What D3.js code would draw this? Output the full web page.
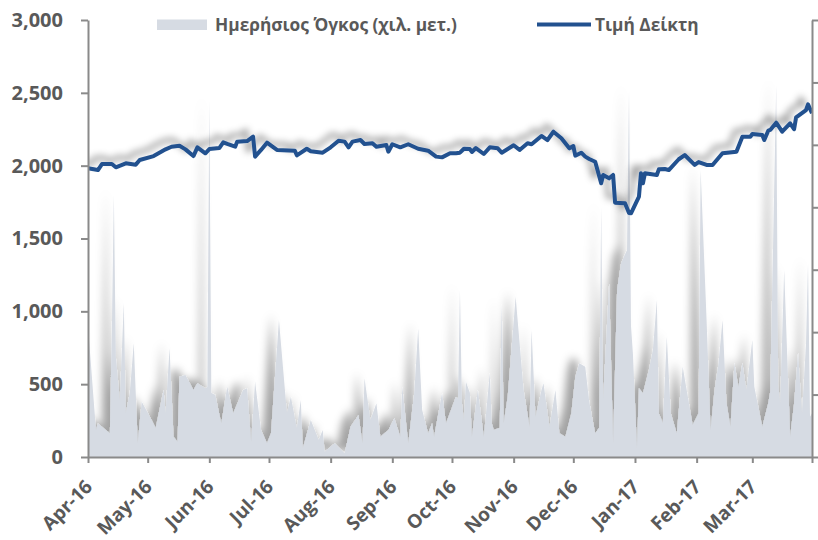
<!DOCTYPE html>
<html>
<head>
<meta charset="utf-8">
<script src="https://cdn.jsdelivr.net/npm/d3@7"></script>
<style>
  body { margin: 0; background: #fff; }
  svg { display: block; font-family: "Open Sans", sans-serif; }
</style>
</head>
<body>
<div class="container"></div>
<script>
// daily volume (thousand units) at its turning points
const volumeDates = [
  "2016-04-01","2016-04-05","2016-04-06","2016-04-12","2016-04-13","2016-04-14","2016-04-15","2016-04-17",
  "2016-04-19","2016-04-20","2016-04-22","2016-04-24","2016-04-26","2016-04-28","2016-05-03","2016-05-05",
  "2016-05-09","2016-05-10","2016-05-12","2016-05-14","2016-05-16","2016-05-17","2016-05-20","2016-05-24",
  "2016-05-26","2016-05-30","2016-05-31","2016-06-01","2016-06-02","2016-06-04","2016-06-07","2016-06-10",
  "2016-06-13","2016-06-18","2016-06-20","2016-06-22","2016-06-24","2016-06-27","2016-06-30","2016-07-02",
  "2016-07-06","2016-07-08","2016-07-10","2016-07-12","2016-07-15","2016-07-17","2016-07-18","2016-07-22",
  "2016-07-26","2016-07-28","2016-07-29","2016-08-03","2016-08-08","2016-08-11","2016-08-15","2016-08-17",
  "2016-08-18","2016-08-21","2016-08-24","2016-08-26","2016-08-30","2016-09-02","2016-09-05","2016-09-06",
  "2016-09-09","2016-09-12","2016-09-14","2016-09-16","2016-09-19","2016-09-21","2016-09-22","2016-09-26",
  "2016-09-28","2016-10-03","2016-10-04","2016-10-05","2016-10-06","2016-10-07","2016-10-08","2016-10-10",
  "2016-10-11","2016-10-14","2016-10-17","2016-10-20","2016-10-21","2016-10-22","2016-10-25","2016-10-26",
  "2016-10-27","2016-10-29","2016-11-02","2016-11-06","2016-11-09","2016-11-10","2016-11-12","2016-11-15",
  "2016-11-16","2016-11-19","2016-11-22","2016-11-24","2016-11-27","2016-11-30","2016-12-02","2016-12-04",
  "2016-12-07","2016-12-09","2016-12-12","2016-12-14","2016-12-15","2016-12-16","2016-12-19","2016-12-21",
  "2016-12-23","2016-12-25","2016-12-28","2016-12-29","2016-12-30","2016-12-31","2017-01-02","2017-01-03",
  "2017-01-05","2017-01-08","2017-01-10","2017-01-12","2017-01-13","2017-01-15","2017-01-17","2017-01-19",
  "2017-01-22","2017-01-25","2017-01-27","2017-01-30","2017-02-02","2017-02-03","2017-02-06","2017-02-08",
  "2017-02-10","2017-02-12","2017-02-14","2017-02-16","2017-02-18","2017-02-20","2017-02-22","2017-02-24",
  "2017-02-26","2017-03-01","2017-03-02","2017-03-06","2017-03-09","2017-03-10","2017-03-13","2017-03-14",
  "2017-03-15","2017-03-17","2017-03-20","2017-03-22","2017-03-24","2017-03-26","2017-03-28","2017-03-29",
  "2017-03-30","2017-03-31"
];
const volumeValues = [
  900, 185, 230, 163, 870, 1800, 689, 391,
  1057, 302, 440, 783, 96, 380, 254, 199,
  460, 302, 748, 139, 105, 551, 563, 460,
  506, 472, 480, 2450, 440, 426, 231, 483,
  300, 460, 472, 105, 517, 185, 94, 163,
  940, 620, 300, 414, 197, 391, 60, 254,
  117, 185, 36, 94, 25, 208, 288, 94,
  540, 254, 369, 139, 185, 266, 139, 483,
  94, 437, 883, 323, 163, 231, 139, 437,
  231, 414, 400, 1146, 369, 254, 517, 440,
  139, 460, 139, 575, 231, 185, 200, 1055,
  231, 414, 1100, 460, 208, 872, 277, 460,
  506, 208, 460, 163, 139, 300, 551, 643,
  620, 380, 163, 200, 1718, 400, 1192, 94,
  1146, 1330, 1421, 2519, 900, 700, 60, 472,
  437, 597, 735, 1078, 300, 231, 826, 300,
  163, 620, 460, 220, 300, 1970, 940, 185,
  460, 643, 940, 369, 208, 643, 483, 643,
  460, 803, 483, 208, 369, 450, 2554, 500,
  369, 1284, 139, 369, 712, 300, 781, 1330,
  277, 300
];

// index level at its turning points
const indexDates = [
  "2016-04-01","2016-04-06","2016-04-08","2016-04-13","2016-04-15","2016-04-20","2016-04-25","2016-04-27",
  "2016-05-04","2016-05-10","2016-05-13","2016-05-17","2016-05-20","2016-05-24","2016-05-26","2016-05-30",
  "2016-06-01","2016-06-06","2016-06-08","2016-06-10","2016-06-14","2016-06-15","2016-06-20","2016-06-23",
  "2016-06-24","2016-06-27","2016-06-30","2016-07-05","2016-07-14","2016-07-15","2016-07-20","2016-07-22",
  "2016-07-28","2016-08-01","2016-08-05","2016-08-08","2016-08-10","2016-08-12","2016-08-16","2016-08-18",
  "2016-08-22","2016-08-24","2016-08-29","2016-08-30","2016-09-01","2016-09-05","2016-09-09","2016-09-14",
  "2016-09-19","2016-09-23","2016-09-26","2016-09-30","2016-10-03","2016-10-05","2016-10-07","2016-10-10",
  "2016-10-11","2016-10-13","2016-10-17","2016-10-20","2016-10-24","2016-10-26","2016-11-01","2016-11-04",
  "2016-11-08","2016-11-10","2016-11-15","2016-11-18","2016-11-21","2016-11-25","2016-11-29","2016-12-01",
  "2016-12-02","2016-12-05","2016-12-07","2016-12-09","2016-12-12","2016-12-15","2016-12-16","2016-12-19",
  "2016-12-21","2016-12-22","2016-12-27","2016-12-29","2016-12-30","2017-01-03","2017-01-04","2017-01-05",
  "2017-01-06","2017-01-12","2017-01-13","2017-01-16","2017-01-18","2017-01-23","2017-01-26","2017-01-31",
  "2017-02-02","2017-02-06","2017-02-09","2017-02-14","2017-02-21","2017-02-24","2017-02-28","2017-03-01",
  "2017-03-06","2017-03-07","2017-03-09","2017-03-10","2017-03-13","2017-03-16","2017-03-20","2017-03-22",
  "2017-03-23","2017-03-28","2017-03-29","2017-03-31"
];
const indexValues = [
  1982, 1970, 2011, 2011, 1989, 2016, 2007, 2039,
  2066, 2112, 2130, 2137, 2112, 2066, 2126, 2085,
  2114, 2121, 2160, 2149, 2130, 2165, 2169, 2199,
  2062, 2108, 2158, 2108, 2103, 2071, 2116, 2099,
  2089, 2126, 2171, 2165, 2126, 2165, 2176, 2149,
  2154, 2130, 2142, 2096, 2147, 2126, 2147, 2116,
  2103, 2062, 2057, 2085, 2085, 2089, 2116, 2114,
  2094, 2121, 2080, 2126, 2119, 2089, 2140, 2108,
  2154, 2147, 2204, 2176, 2233, 2188, 2119, 2135,
  2069, 2089, 2062, 2046, 2027, 1879, 1936, 1913,
  1936, 1746, 1742, 1675, 1673, 1787, 1948, 1879,
  1948, 1936, 1975, 1977, 1970, 2044, 2073, 2005,
  2025, 2005, 2005, 2085, 2096, 2199, 2199, 2217,
  2210, 2176, 2240, 2245, 2295, 2233, 2291, 2250,
  2332, 2382, 2421, 2360
];

// left axis ticks and legend labels
const yTicks = [0, 500, 1000, 1500, 2000, 2500, 3000];
const legendLabels = ["Ημερήσιος Όγκος (χιλ. μετ.)", "Τιμή Δείκτη"];

const parseDate = d3.timeParse("%Y-%m-%d");
const volumeData = volumeDates.map((d, i) => ({ date: parseDate(d), value: volumeValues[i] }));
const indexData = indexDates.map((d, i) => ({ date: parseDate(d), value: indexValues[i] }));

const areaColor = "#d6dbe3";
const lineColor = "#22518f";
const axisColor = "#8a8a8a";
const textColor = "#595959";

const margin = { top: 20, right: 6, bottom: 83, left: 88 };
const width = 818 - margin.left - margin.right;
const height = 540 - margin.top - margin.bottom;

const svgContainer = d3.select(".container")
  .append("svg")
  .attr("width", 818)
  .attr("height", 540);

// soft grey shadow, thrown up and to the left like the original
const defs = svgContainer.append("defs");
defs.append("filter")
  .attr("id", "shadow-area")
  .attr("filterUnits", "userSpaceOnUse")
  .attr("x", -40).attr("y", -40).attr("width", 900).attr("height", 620)
  .append("feDropShadow")
  .attr("dx", -8).attr("dy", -6)
  .attr("stdDeviation", 4)
  .attr("flood-color", "#000")
  .attr("flood-opacity", 0.36);
defs.append("filter")
  .attr("id", "shadow-line")
  .attr("filterUnits", "userSpaceOnUse")
  .attr("x", -40).attr("y", -40).attr("width", 900).attr("height", 620)
  .append("feDropShadow")
  .attr("dx", -7).attr("dy", -6)
  .attr("stdDeviation", 3.5)
  .attr("flood-color", "#000")
  .attr("flood-opacity", 0.4);
defs.append("clipPath")
  .attr("id", "plot-clip")
  .append("rect")
  .attr("width", width)
  .attr("height", height);

const svgCanvas = svgContainer
  .append("g")
  .attr("transform", `translate(${margin.left}, ${margin.top})`);

// scales
const xScale = d3.scaleTime()
  .domain([parseDate("2016-04-01"), parseDate("2017-03-31")])
  .range([0, width]);

const yScale = d3.scaleLinear()
  .domain([0, 3000])
  .range([height, 0]);

// the secondary axis has ticks but no labels
const yRight = d3.scaleLinear()
  .domain([0, 7])
  .range([height, 0]);

const plot = svgCanvas.append("g").attr("clip-path", "url(#plot-clip)");

// volume area
const area = d3.area()
  .x(d => xScale(d.date))
  .y0(height)
  .y1(d => yScale(d.value));

plot.append("path")
  .datum(volumeData)
  .attr("d", area)
  .attr("fill", areaColor)
  .attr("filter", "url(#shadow-area)");

// index line
const line = d3.line()
  .x(d => xScale(d.date))
  .y(d => yScale(d.value));

plot.append("path")
  .datum(indexData)
  .attr("d", line)
  .attr("fill", "none")
  .attr("stroke", lineColor)
  .attr("stroke-width", 4)
  .attr("stroke-linejoin", "round")
  .attr("filter", "url(#shadow-line)");

// axes
const monthTicks = d3.timeMonth.range(parseDate("2016-04-01"), parseDate("2017-04-01"));
const xAxis = d3.axisBottom(xScale)
  .tickValues([...monthTicks, xScale.domain()[1]])
  .tickFormat((d, i) => i < monthTicks.length ? d3.timeFormat("%b-%y")(d) : "")
  .tickSize(6)
  .tickSizeOuter(0);

const yAxis = d3.axisLeft(yScale)
  .tickValues(yTicks)
  .tickFormat(d3.format(","))
  .tickSize(7)
  .tickPadding(18)
  .tickSizeOuter(0);

const yAxisRight = d3.axisRight(yRight)
  .ticks(7)
  .tickFormat("")
  .tickSize(6)
  .tickSizeOuter(0);

const gx = svgCanvas.append("g")
  .attr("transform", `translate(0, ${height})`)
  .call(xAxis);

const gy = svgCanvas.append("g").call(yAxis);

const gyr = svgCanvas.append("g")
  .attr("transform", `translate(${width}, 0)`)
  .call(yAxisRight);

[gx, gy, gyr].forEach(g => {
  g.selectAll("path, line")
    .attr("stroke", axisColor)
    .attr("stroke-width", 2);
  g.selectAll("text")
    .attr("fill", textColor)
    .attr("font-family", "'Open Sans', sans-serif")
    .attr("font-weight", 700)
    .attr("font-size", 20);
});

// month labels slanted at 45 degrees below the axis, a touch smaller so they stay inside
gx.selectAll("text")
  .attr("font-size", 19)
  .attr("x", 0)
  .attr("y", 0)
  .attr("dy", 0)
  .attr("text-anchor", "end")
  .attr("transform", "translate(5, 31) rotate(-45)");

// legend
const legend = svgContainer.append("g")
  .attr("font-family", "'Open Sans', sans-serif")
  .attr("font-weight", 700)
  .attr("font-size", 17.3)
  .attr("fill", textColor);

legend.append("rect")
  .attr("x", 157).attr("y", 19.5)
  .attr("width", 50).attr("height", 10.5)
  .attr("fill", areaColor);

legend.append("text")
  .attr("x", 215).attr("y", 30.5)
  .text(legendLabels[0]);

legend.append("line")
  .attr("x1", 537).attr("x2", 591)
  .attr("y1", 24.5).attr("y2", 24.5)
  .attr("stroke", lineColor)
  .attr("stroke-width", 4);

legend.append("text")
  .attr("x", 595).attr("y", 30.5)
  .text(legendLabels[1]);
</script>
</body>
</html>
